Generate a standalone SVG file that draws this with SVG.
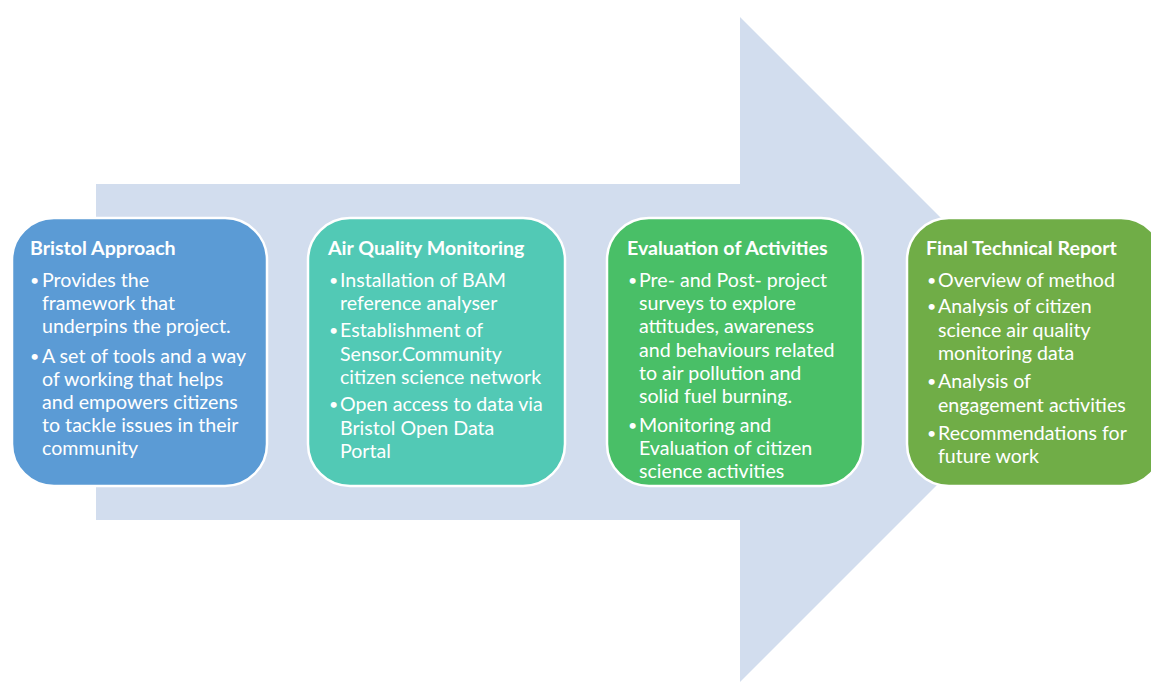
<svg xmlns="http://www.w3.org/2000/svg" width="1151" height="682" viewBox="0 0 1151 682">
<style>
.box{stroke:#ffffff;stroke-width:2.5}
.t{font-family:Lato,"Liberation Sans",sans-serif;font-weight:bold;font-size:19.6px;fill:#ffffff}
.b{font-family:Lato,"Liberation Sans",sans-serif;font-size:19.6px;fill:#ffffff}
.d{font-family:Lato,"Liberation Sans",sans-serif;font-size:16px;fill:#ffffff}
</style>
<rect width="1151" height="682" fill="#ffffff"/>
<g id="arrow">
<polygon points="96,184 740,184 740,17 1072.5,349.5 740,682 740,520 96,520" fill="#d2ddee"/>
</g>
<g id="connectors"></g>
<g id="node-bristol">
<rect class="box" x="12" y="218" width="255" height="268" rx="42" fill="#5b9bd5"/>
<text class="t" x="30" y="255">Bristol Approach</text>
<g class="d"><text x="30" y="286">•</text><text x="30" y="362">•</text></g>
<text class="b"><tspan x="42" y="287">Provides the</tspan><tspan x="42" y="310">framework that</tspan><tspan x="42" y="333">underpins the project.</tspan><tspan x="42" y="363">A set of tools and a way</tspan><tspan x="42" y="386">of working that helps</tspan><tspan x="42" y="409">and empowers citizens</tspan><tspan x="42" y="432">to tackle issues in their</tspan><tspan x="42" y="455">community</tspan></text>
</g>
<g id="node-aqm">
<rect class="box" x="308" y="218" width="257" height="268" rx="42" fill="#52c9b5"/>
<text class="t" x="328" y="255">Air Quality Monitoring</text>
<g class="d"><text x="329" y="286">•</text><text x="329" y="336">•</text><text x="329" y="410">•</text></g>
<text class="b"><tspan x="340" y="287">Installation of BAM</tspan><tspan x="340" y="310">reference analyser</tspan><tspan x="340" y="337">Establishment of</tspan><tspan x="340" y="361">Sensor.Community</tspan><tspan x="340" y="384">citizen science network</tspan><tspan x="340" y="411">Open access to data via</tspan><tspan x="340" y="435">Bristol Open Data</tspan><tspan x="340" y="458">Portal</tspan></text>
</g>
<g id="node-eval">
<rect class="box" x="607" y="218" width="256" height="268" rx="42" fill="#49bf67"/>
<text class="t" x="627" y="255">Evaluation of Activities</text>
<g class="d"><text x="628" y="286">•</text><text x="628" y="431">•</text></g>
<text class="b"><tspan x="639" y="287">Pre- and Post- project</tspan><tspan x="639" y="310">surveys to explore</tspan><tspan x="639" y="333">attitudes, awareness</tspan><tspan x="639" y="357">and behaviours related</tspan><tspan x="639" y="380">to air pollution and</tspan><tspan x="639" y="403">solid fuel burning.</tspan><tspan x="639" y="432">Monitoring and</tspan><tspan x="639" y="455">Evaluation of citizen</tspan><tspan x="639" y="478">science activities</tspan></text>
</g>
<g id="node-report">
<rect class="box" x="907" y="218" width="256" height="268" rx="42" fill="#70ad47"/>
<text class="t" x="926" y="255">Final Technical Report</text>
<g class="d"><text x="927" y="286">•</text><text x="927" y="312">•</text><text x="927" y="387">•</text><text x="927" y="439">•</text></g>
<text class="b"><tspan x="938" y="287">Overview of method</tspan><tspan x="938" y="313">Analysis of citizen</tspan><tspan x="938" y="337">science air quality</tspan><tspan x="938" y="360">monitoring data</tspan><tspan x="938" y="388">Analysis of</tspan><tspan x="938" y="412">engagement activities</tspan><tspan x="938" y="440">Recommendations for</tspan><tspan x="938" y="463">future work</tspan></text>
</g>
</svg>
